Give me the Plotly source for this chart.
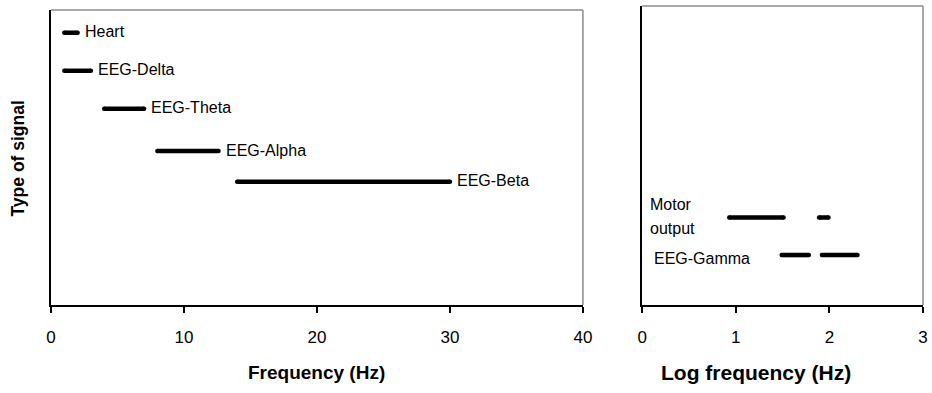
import plotly.graph_objects as go

# Linear-frequency panel: signal bands in Hz
band_names = ["Heart", "EEG-Delta", "EEG-Theta", "EEG-Alpha", "EEG-Beta"]
band_low_hz = [1, 1, 4, 8, 14]
band_high_hz = [2, 3, 7, 12.6, 30]
band_level = [9.23, 7.94, 6.65, 5.22, 4.18]

# Log-frequency panel: log10(Hz) segments
motor_low = [0.93, 1.89]
motor_high = [1.51, 1.99]
motor_level = 2.93
gamma_low = [1.49, 1.92]
gamma_high = [1.78, 2.30]
gamma_level = 1.67

left_ticks = [0, 10, 20, 30, 40]
right_ticks = [0, 1, 2, 3]

FONT = "Liberation Sans, Arial, sans-serif"
LW = 4.5

fig = go.Figure()


def add_segment(x0, x1, y, xa, ya):
    fig.add_trace(go.Scatter(
        x=[x0, x1], y=[y, y], xaxis=xa, yaxis=ya,
        mode="lines+markers",
        line=dict(color="black", width=LW),
        marker=dict(color="black", size=LW, line=dict(width=0)),
        showlegend=False, hoverinfo="skip",
    ))


annotations = []
for name, lo, hi, lev in zip(band_names, band_low_hz, band_high_hz, band_level):
    add_segment(lo, hi, lev, "x", "y")
    annotations.append(dict(
        x=hi, y=lev, xref="x", yref="y", text=name, showarrow=False,
        xanchor="left", yanchor="middle", xshift=5, yshift=1,
        font=dict(family=FONT, size=16, color="black"),
    ))

for lo, hi in zip(motor_low, motor_high):
    add_segment(lo, hi, motor_level, "x2", "y2")
for lo, hi in zip(gamma_low, gamma_high):
    add_segment(lo, hi, gamma_level, "x2", "y2")

annotations += [
    dict(x=0.06, y=motor_level, xref="x2", yref="y2", text="Motor", showarrow=False,
         xanchor="left", yanchor="middle", yshift=13,
         font=dict(family=FONT, size=16, color="black")),
    dict(x=0.06, y=motor_level, xref="x2", yref="y2", text="output", showarrow=False,
         xanchor="left", yanchor="middle", yshift=-11,
         font=dict(family=FONT, size=16, color="black")),
    dict(x=0.10, y=gamma_level, xref="x2", yref="y2", text="EEG-Gamma", showarrow=False,
         xanchor="left", yanchor="middle", yshift=-3,
         font=dict(family=FONT, size=16, color="black")),
    # axis titles
    dict(x=0.305, y=-0.227, xref="paper", yref="paper", text="<b>Frequency (Hz)</b>",
         showarrow=False, xanchor="center", yanchor="middle",
         font=dict(family=FONT, size=19, color="black")),
    dict(x=0.8085, y=-0.227, xref="paper", yref="paper", text="<b>Log frequency (Hz)</b>",
         showarrow=False, xanchor="center", yanchor="middle",
         font=dict(family=FONT, size=21, color="black")),
    dict(x=-0.0378, y=0.49, xref="paper", yref="paper", text="<b>Type of signal</b>",
         showarrow=False, xanchor="center", yanchor="middle", textangle=-90,
         font=dict(family=FONT, size=17.5, color="black")),
]

xcommon = dict(
    showgrid=False, zeroline=False, showline=True, linecolor="black", linewidth=2,
    ticks="outside", ticklen=6, tickwidth=1.5, tickcolor="black",
    tickfont=dict(family=FONT, size=17, color="black"), ticklabelstandoff=10,
)
ycommon = dict(
    showgrid=False, zeroline=False, showline=True, linecolor="black", linewidth=2,
    showticklabels=False, ticks="", range=[0, 10], fixedrange=True,
)

fig.update_layout(
    width=932, height=393,
    margin=dict(l=51, r=9, t=6, b=88, autoexpand=False),
    paper_bgcolor="white", plot_bgcolor="white",
    showlegend=False,
    xaxis=dict(domain=[0, 0.610], range=[0, 40], tickvals=left_ticks, anchor="y", **xcommon),
    yaxis=dict(domain=[0, 0.9866], anchor="x", **ycommon),
    xaxis2=dict(domain=[0.678, 1], range=[0, 3], tickvals=right_ticks, anchor="y2", **xcommon),
    yaxis2=dict(domain=[0, 1], anchor="x2", **ycommon),
    annotations=annotations,
)

# grey top and right frame edges of each panel
for xr, yr in (("x domain", "y domain"), ("x2 domain", "y2 domain")):
    fig.add_shape(type="line", xref=xr, yref=yr, x0=0, x1=1, y0=1, y1=1,
                  line=dict(color="#8c8c8c", width=1.5))
    fig.add_shape(type="line", xref=xr, yref=yr, x0=1, x1=1, y0=0, y1=1,
                  line=dict(color="#8c8c8c", width=1.5))

fig.write_html("out.html")
